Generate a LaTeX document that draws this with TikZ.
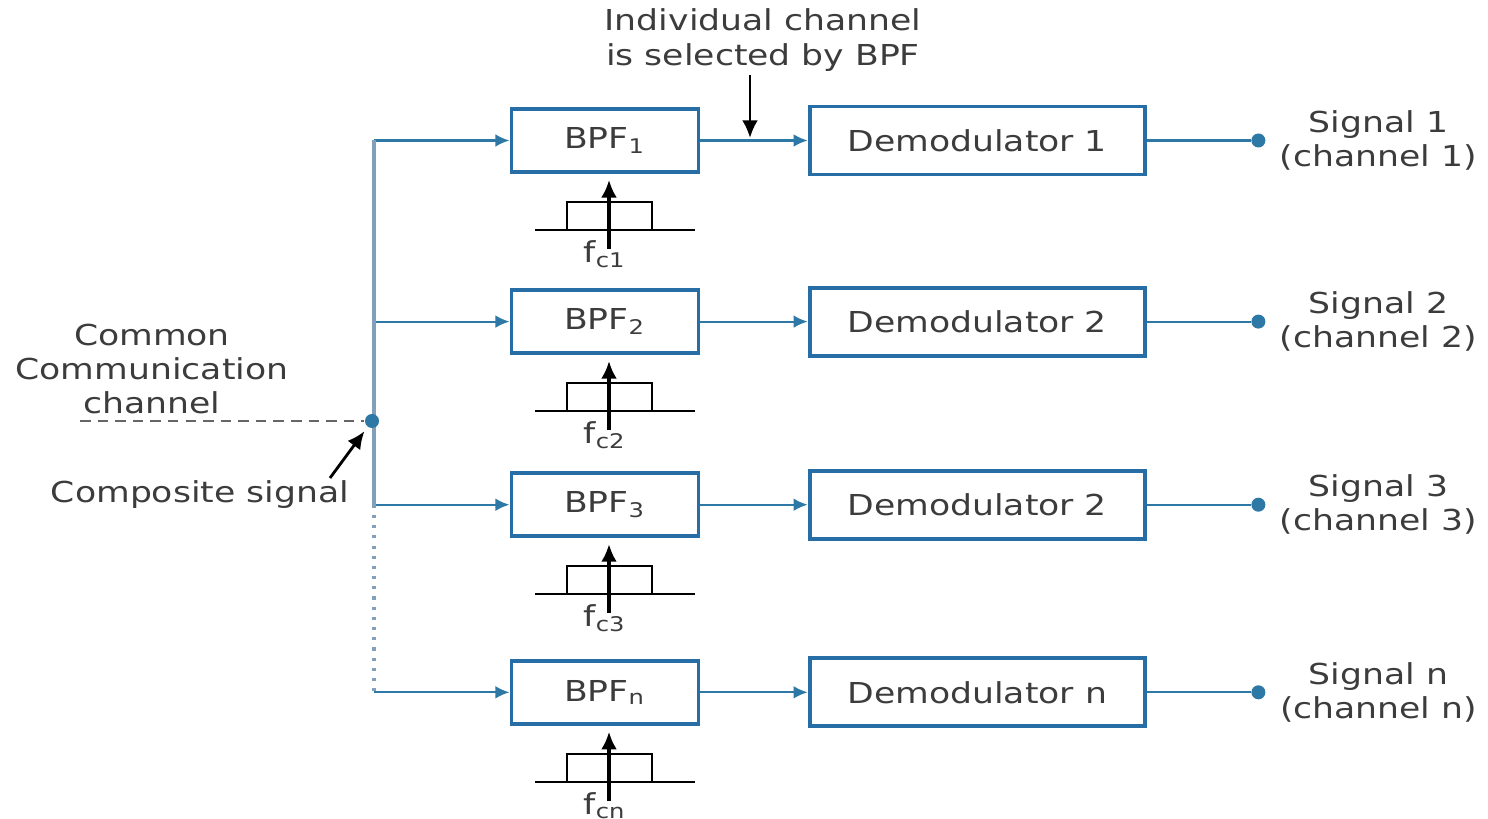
\documentclass[tikz,border=0pt]{standalone}
\usepackage{fontspec}
\setmainfont{DejaVu Sans}[FakeStretch=1.2]
\usepackage{tikz}
\usetikzlibrary{positioning, arrows.meta}

\definecolor{boxblue}{RGB}{38,110,165}
\definecolor{linkblue}{RGB}{45,120,165}
\definecolor{busgray}{RGB}{130,160,185}
\definecolor{txtgray}{RGB}{60,60,60}

\tikzset{
  filterbox/.style={draw=boxblue, line width=1.1pt, minimum width=1.87cm, minimum height=0.63cm, text=txtgray},
  demodbox/.style={draw=boxblue, line width=1.1pt, minimum width=3.35cm, minimum height=0.68cm, text=txtgray},
  link/.style={draw=linkblue, line width=0.6pt, -{Latex[length=4pt,width=3.6pt]}},
  note/.style={text=txtgray, align=center, inner sep=1pt},
  pointer/.style={draw=black, line width=0.8pt, -{Latex[length=5pt,width=4.5pt]}},
  tap/.style={circle, fill=linkblue, inner sep=0pt, minimum size=0.14cm},
  passband/.pic={
    \draw[black, line width=0.6pt] (-74,0) -- (86,0);
    \draw[black, line width=0.6pt] (-42,0) -- (-42,-28) -- (43,-28) -- (43,0);
  }
}

\begin{document}
\begin{tikzpicture}[x=0.01cm, y=-0.01cm, on grid, font=\fontsize{8.2}{9.8}\selectfont]
  \useasboundingbox (0,0) rectangle (1488,819);

  % filters and demodulators
  \node[filterbox] (bpf1) at (605,140.5) {BPF\textsubscript{1}};
  \node[filterbox] (bpf2) [below=1.81cm of bpf1] {BPF\textsubscript{2}};
  \node[filterbox] (bpf3) [below=1.83cm of bpf2] {BPF\textsubscript{3}};
  \node[filterbox] (bpf4) [below=1.875cm of bpf3] {BPF\textsubscript{n}};

  \node[demodbox] (dem1) [right=3.72cm of bpf1] {Demodulator 1};
  \node[demodbox] (dem2) [right=3.72cm of bpf2] {Demodulator 2};
  \node[demodbox] (dem3) [right=3.72cm of bpf3] {Demodulator 2};
  \node[demodbox] (dem4) [right=3.72cm of bpf4] {Demodulator n};

  % outputs
  \foreach \i/\s in {1/1,2/2,3/3,4/n} {
    \node[tap] (o\i) [right=2.81cm of dem\i] {};
    \node[note] (sig\i) [right=1.2cm of o\i] {Signal \s\\(channel \s)};
    \draw[linkblue, line width=0.6pt] (dem\i) -- (o\i);
    \draw[link] (bpf\i) -- (dem\i);
    \coordinate (b\i) at (bpf\i -| 374,0);
    \draw[link] (b\i) -- (bpf\i);
    % pass band sketch under each filter
    \pic at ([xshift=0.04cm,yshift=-0.56cm]bpf\i.south) {passband};
    \coordinate (tail\i) at ([xshift=0.04cm,yshift=-0.75cm]bpf\i.south);
    \draw[pointer, line width=0.9pt, shorten >=0.06cm] (tail\i) -- (tail\i |- bpf\i.south);
    \node[note] (fc\i) at ([yshift=-0.8cm]bpf\i.south) {f\textsubscript{c\s}};
  }

  % common bus
  \draw[busgray, line width=0.9pt] (b1) -- (b3);
  \draw[busgray, line width=0.9pt, dotted] (b3) -- (b4);

  \node[tap] (cc) at (372,421) {};
  \coordinate (dashend) at (80,421);
  \draw[gray!80!black, line width=0.5pt, dash pattern=on 3pt off 2pt] (dashend) -- (cc);
  \node[note] (common) at (152,369) {Common\\Communication\\channel};

  \node[note] (comp) at (200,495) {Composite signal};
  \coordinate (compfrom) at (330,478);
  \draw[pointer, shorten >=0.05cm] (compfrom) -- (cc);

  % selection note
  \node[note] (sel) at (763,40) {Individual channel\\is selected by BPF};
  \coordinate (selpt) at (750,138);
  \draw[pointer] (sel.south -| selpt) -- (selpt);
\end{tikzpicture}
\end{document}
